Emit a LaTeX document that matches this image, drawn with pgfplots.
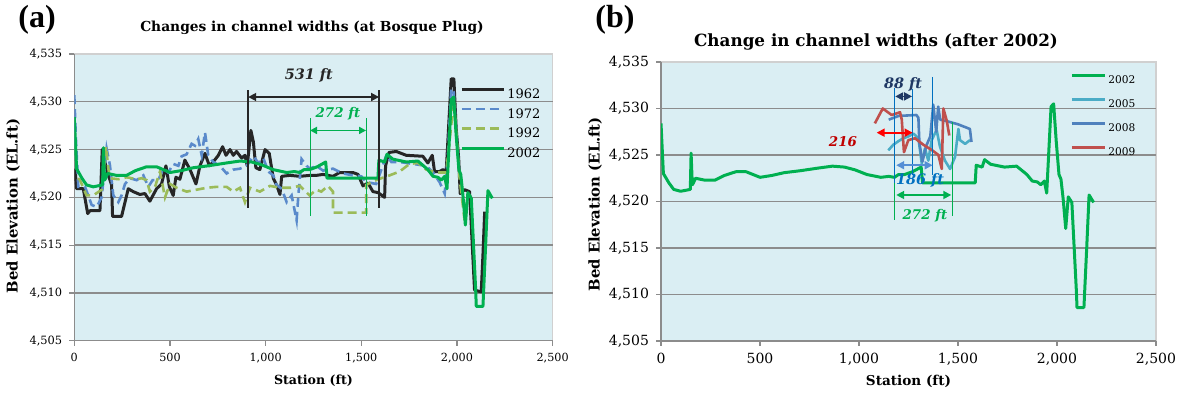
\documentclass[border=0pt]{standalone}
\usepackage{pgfplots}
\pgfplotsset{compat=1.18}
\usepackage{fontspec}
\setmainfont{DejaVu Serif}
\newfontfamily\timesfont{Liberation Serif}
\usetikzlibrary{arrows.meta}
\definecolor{bg}{HTML}{DAEEF3}
\definecolor{gridgray}{HTML}{8C8C8C}
\definecolor{axisgray}{HTML}{8C8C8C}
\definecolor{framegray}{HTML}{D0D0D0}
\definecolor{c1962}{HTML}{262626}
\definecolor{c1972}{HTML}{5A8ACB}
\definecolor{c1992}{HTML}{9BBB59}
\definecolor{c2002}{HTML}{00B050}
\definecolor{c2005}{HTML}{4BACC6}
\definecolor{c2008}{HTML}{4F81BD}
\definecolor{c2009}{HTML}{C0504D}
\definecolor{annblue}{HTML}{0070C0}
\definecolor{annlblue}{HTML}{558ED5}
\definecolor{annnavy}{HTML}{1F3864}
\definecolor{annred}{HTML}{FF0000}
\definecolor{anndred}{HTML}{C00000}

\pgfplotstableread{
s e
0 4528.4
12 4523.0
40 4522.0
64 4521.3
99 4521.1
148 4521.3
152 4525.2
158 4521.8
164 4522.0
174 4522.5
220 4522.3
273 4522.3
320 4522.8
378 4523.2
430 4523.2
500 4522.6
560 4522.8
622 4523.1
700 4523.3
796 4523.6
866 4523.8
927 4523.7
980 4523.4
1040 4522.9
1110 4522.6
1150 4522.7
1179 4522.6
1200 4522.9
1230 4522.9
1270 4523.2
1314 4523.7
1321 4522.0
1587 4522.0
1592 4523.9
1622 4523.7
1634 4524.5
1665 4524.0
1735 4523.7
1796 4523.8
1848 4522.9
1875 4522.2
1901 4522.1
1918 4521.8
1936 4522.2
1948 4520.9
1970 4530.2
1983 4530.5
1996 4526.5
2010 4522.9
2020 4522.4
2031 4520.3
2044 4517.1
2057 4520.5
2075 4519.9
2098 4510.3
2101 4508.6
2136 4508.6
2150 4515.0
2162 4520.7
2185 4519.9
}\tabA

\pgfplotstableread{
s e
4 4523.0
12 4520.9
47 4520.9
70 4518.3
82 4518.6
134 4518.6
146 4525.0
160 4523.7
178 4522.3
195 4521.3
200 4518.0
247 4518.0
282 4520.9
308 4520.6
343 4520.3
369 4520.4
395 4519.6
430 4520.9
456 4521.4
479 4523.3
497 4521.1
517 4520.2
531 4522.1
552 4521.9
578 4523.9
605 4522.9
636 4521.4
657 4523.3
683 4524.6
706 4523.3
726 4523.7
753 4524.4
775 4525.3
793 4524.4
814 4525.0
831 4524.4
848 4524.8
875 4524.1
892 4524.4
904 4523.3
923 4527.0
936 4525.8
949 4523.1
970 4522.9
997 4525.0
1019 4524.6
1040 4522.0
1057 4521.3
1075 4520.3
1084 4522.2
1127 4522.3
1179 4522.2
1232 4522.3
1265 4522.3
1300 4522.4
1352 4522.2
1387 4522.6
1456 4522.6
1483 4522.4
1509 4521.2
1535 4521.5
1561 4520.6
1587 4520.5
1622 4520.0
1627 4523.3
1645 4524.7
1683 4524.8
1735 4524.4
1822 4524.3
1848 4523.6
1871 4524.4
1883 4522.7
1909 4522.7
1927 4522.9
1944 4522.7
1970 4532.4
1984 4532.4
1996 4527.2
2009 4524.1
2017 4520.4
2040 4520.8
2066 4520.6
2092 4510.3
2127 4510.1
2136 4514.0
2145 4518.5
}\tabB

\pgfplotstableread{
s e
0 4530.7
9 4525.8
21 4521.1
56 4521.1
91 4519.2
117 4519.0
143 4520.0
169 4525.1
186 4523.4
204 4520.2
230 4519.5
247 4520.2
265 4521.4
291 4522.0
326 4521.8
361 4522.3
387 4521.1
409 4521.8
439 4521.8
465 4523.0
491 4522.6
517 4523.5
544 4523.3
561 4524.3
587 4524.5
613 4525.6
631 4525.4
648 4526.1
666 4524.4
683 4526.8
700 4524.4
726 4523.7
761 4523.3
796 4522.5
831 4522.9
866 4523.0
901 4523.3
936 4524.3
962 4523.6
988 4524.1
1014 4522.7
1040 4522.3
1057 4521.3
1084 4520.9
1110 4519.5
1136 4520.2
1162 4517.6
1171 4520.2
1188 4524.0
1214 4523.3
1232 4523.0
1265 4523.3
1300 4522.8
1352 4523.0
1404 4522.5
1456 4522.3
1500 4522.2
1526 4521.6
1578 4521.4
1605 4522.9
1631 4524.4
1657 4523.7
1700 4523.7
1770 4523.5
1840 4523.3
1875 4522.6
1909 4521.6
1936 4520.4
1953 4524.4
1970 4531.4
1983 4531.0
1996 4527.0
2010 4523.0
}\tabC

\pgfplotstableread{
s e
20 4522.0
30 4521.8
64 4520.2
99 4520.2
143 4520.8
166 4525.3
178 4523.0
186 4522.0
230 4521.9
274 4522.1
326 4521.9
352 4522.0
378 4521.8
395 4520.6
422 4521.1
448 4522.7
474 4520.0
500 4521.4
535 4521.0
587 4520.6
639 4520.8
692 4521.0
744 4521.1
796 4521.1
831 4520.6
866 4521.0
892 4519.5
918 4521.0
970 4520.6
1023 4521.2
1075 4521.0
1127 4521.0
1179 4521.2
1230 4520.2
1265 4520.8
1291 4520.6
1326 4521.2
1352 4520.6
1352 4518.4
1526 4518.4
1526 4521.3
1552 4521.6
1605 4522.0
1648 4522.3
1700 4522.7
1753 4523.5
1796 4523.6
1840 4522.9
1892 4522.6
1944 4522.6
1970 4527.5
1983 4530.3
1996 4527.0
2014 4522.0
2040 4517.6
}\tabD

\pgfplotstableread{
s e
1148 4525.5
1173 4526.1
1200 4526.5
1224 4526.8
1250 4527.0
1275 4527.3
1300 4526.8
1317 4524.1
1333 4525.7
1350 4524.4
1367 4526.6
1392 4527.7
1409 4525.9
1434 4524.4
1460 4523.5
1485 4524.8
1502 4527.8
1510 4526.6
1536 4526.2
1561 4526.6
}\tabE

\pgfplotstableread{
s e
1150 4528.8
1200 4529.2
1290 4529.3
1300 4529.0
1305 4526.3
1320 4524.3
1340 4526.0
1360 4527.0
1375 4530.4
1390 4527.5
1400 4530.2
1410 4528.8
1450 4528.6
1500 4528.3
1560 4527.8
1568 4526.4
}\tabF

\pgfplotstableread{
s e
1080 4528.4
1120 4530.0
1165 4529.3
1207 4529.6
1216 4528.8
1227 4525.3
1249 4526.6
1283 4526.8
1325 4526.1
1370 4525.5
1401 4525.0
1418 4523.5
1426 4530.0
1443 4528.7
1456 4527.1
}\tabG

\pgfplotsset{
  chan/.style={
    scale only axis,
    xmin=0, xmax=2500, ymin=4505, ymax=4535,
    xtick={0,500,1000,1500,2000,2500},
    xticklabels={0,500,{1,000},{1,500},{2,000},{2,500}},
    ytick={4505,4510,4515,4520,4525,4530,4535},
    yticklabels={{4,505},{4,510},{4,515},{4,520},{4,525},{4,530},{4,535}},
    extra y ticks={4510,4515,4520,4525,4530},
    extra y tick labels={},
    extra y tick style={grid=major, major tick length=0pt},
    grid style={draw=gridgray, line width=0.7pt},
    axis x line*=bottom, axis y line*=left,
    axis line style={draw=axisgray, line width=0.6pt},
    tick align=outside, major tick length=2.5pt,
    tick style={draw=axisgray, line width=0.6pt},
    axis background/.style={fill=bg, draw=framegray, line width=0.6pt},
    legend cell align=left,
  },
}

\begin{document}
\begin{tikzpicture}
\path[use as bounding box] (0,0) rectangle (591.5pt,198pt);

% ---------------- panel (a)
\begin{axis}[chan,
  at={(37.15pt,27.65pt)}, anchor=south west,
  width=239.15pt, height=143.35pt,
  xticklabel style={font=\fontsize{5.6}{6}\selectfont},
  yticklabel style={font=\fontsize{5.7}{6}\selectfont},
  xlabel={\bfseries Station (ft)},
  ylabel={\bfseries Bed Elevation (EL.ft)},
  xlabel style={font=\fontsize{6.3}{7}\selectfont, at={(axis description cs:0.5,-0.14)}, anchor=center},
  ylabel style={font=\fontsize{7.4}{8}\selectfont, at={(axis description cs:-0.128,0.47)}, anchor=center},
  legend style={at={(axis cs:2016,4531.5)}, anchor=north west, draw=none, fill=none,
    inner sep=0pt, row sep=4.4pt, column sep=1pt,
    font=\fontsize{6.5}{6.5}\selectfont,
    nodes={inner sep=0pt, text height=4.7pt, text depth=0pt}},
  legend image code/.code={\draw[#1] (0pt,2.35pt) -- (21pt,2.35pt);},
]
\addplot[c1962, line width=1.5pt, line join=round] table[x=s,y=e] {\tabB};
\addlegendentry{1962}
\addplot[c1972, line width=1.3pt, dash pattern=on 4.5pt off 2.5pt] table[x=s,y=e] {\tabC};
\addlegendentry{1972}
\addplot[c1992, line width=1.3pt, dash pattern=on 4.5pt off 2.5pt] table[x=s,y=e] {\tabD};
\addlegendentry{1992}
\addplot[c2002, line width=1.5pt, line join=round] table[x=s,y=e] {\tabA};
\addlegendentry{2002}
% annotations
\draw[c1962, line width=0.8pt] (909,4531.2) -- (909,4518.9);
\draw[c1962, line width=0.8pt] (1593,4531.2) -- (1593,4518.9);
\draw[c1962, line width=0.9pt, {Triangle[length=4pt,width=4pt]}-{Triangle[length=4pt,width=4pt]}] (909,4530.5) -- (1593,4530.5);
\node[c1962, font=\fontsize{7.2}{7}\selectfont\bfseries\itshape] at (1226,4532.8) {531 ft};
\draw[c2002, line width=0.5pt] (1232,4528.3) -- (1232,4518.0);
\draw[c2002, line width=0.5pt] (1525,4528.3) -- (1525,4518.0);
\draw[c2002, line width=0.9pt, {Triangle[length=3.5pt,width=3.5pt]}-{Triangle[length=3.5pt,width=3.5pt]}] (1232,4527.0) -- (1525,4527.0);
\node[c2002, font=\fontsize{6.7}{6.5}\selectfont\bfseries\itshape] at (1378,4528.8) {272 ft};
\end{axis}

% ---------------- panel (b)
\begin{axis}[chan,
  at={(330.5pt,27.5pt)}, anchor=south west,
  width=247.5pt, height=139.5pt,
  xticklabel style={font=\fontsize{7}{7}\selectfont},
  yticklabel style={font=\fontsize{7}{7}\selectfont},
  xlabel={\bfseries Station (ft)},
  ylabel={\bfseries Bed Elevation (EL.ft)},
  xlabel style={font=\fontsize{6.8}{7}\selectfont, at={(axis description cs:0.5,-0.143)}, anchor=center},
  ylabel style={font=\fontsize{7.4}{8}\selectfont, at={(axis description cs:-0.133,0.49)}, anchor=center},
  legend style={at={(axis cs:2066,4533.7)}, anchor=north west, draw=none, fill=none,
    inner sep=0pt, row sep=7.35pt, column sep=1pt,
    font=\fontsize{5.3}{5.3}\selectfont,
    nodes={inner sep=0pt, text height=3.9pt, text depth=0pt}},
  legend image code/.code={\draw[#1] (0pt,1.95pt) -- (16.5pt,1.95pt);},
]
\addplot[c2002, line width=1.5pt, line join=round] table[x=s,y=e] {\tabA};
\addlegendentry{2002}
\addplot[c2005, line width=1.3pt, line join=round] table[x=s,y=e] {\tabE};
\addlegendentry{2005}
\addplot[c2008, line width=1.3pt, line join=round] table[x=s,y=e] {\tabF};
\addlegendentry{2008}
\addplot[c2009, line width=1.3pt, line join=round] table[x=s,y=e] {\tabG};
\addlegendentry{2009}
% annotations
\draw[annblue, line width=0.5pt] (1178,4532.2) -- (1178,4522.0);
\draw[c2002, line width=0.5pt] (1178,4522.0) -- (1178,4518.0);
\draw[annblue, line width=0.5pt] (1271,4532.1) -- (1271,4522.8);
\draw[annblue, line width=0.5pt] (1372,4533.4) -- (1372,4522.8);
\draw[c2002, line width=0.5pt] (1473,4528.6) -- (1473,4518.4);
\draw[annnavy, line width=0.9pt, {Triangle[length=4pt,width=4pt]}-{Triangle[length=4pt,width=4pt]}] (1183,4531.3) -- (1268,4531.3);
\node[annnavy, font=\fontsize{7.2}{7}\selectfont\bfseries\itshape] at (1222,4532.6) {88 ft};
\draw[annred, line width=0.9pt, {Triangle[length=4pt,width=4pt]}-{Triangle[length=4pt,width=4pt]}] (1089,4527.4) -- (1271,4527.4);
\node[anndred, font=\fontsize{6.7}{6.5}\selectfont\bfseries\itshape] at (919,4526.4) {216};
\draw[annlblue, line width=0.9pt, {Triangle[length=4pt,width=4pt]}-{Triangle[length=4pt,width=4pt]}] (1188,4523.9) -- (1372,4523.9);
\node[annblue, font=\fontsize{7.2}{7}\selectfont\bfseries\itshape] at (1308,4522.3) {186 ft};
\draw[c2002, line width=0.9pt, {Triangle[length=4pt,width=4pt]}-{Triangle[length=4pt,width=4pt]}] (1188,4520.7) -- (1466,4520.7);
\node[c2002, font=\fontsize{6.7}{6.5}\selectfont\bfseries\itshape] at (1333,4518.5) {272 ft};
\end{axis}

% titles and panel letters
\node[font=\fontsize{6.9}{7}\selectfont\bfseries] at (156pt,184pt) {Changes in channel widths (at Bosque Plug)};
\node[font=\fontsize{8.4}{9}\selectfont\bfseries] at (438pt,177pt) {Change in channel widths (after 2002)};
\node[font=\fontsize{16}{16}\selectfont\timesfont\bfseries] at (18.5pt,188pt) {(a)};
\node[font=\fontsize{16}{16}\selectfont\timesfont\bfseries] at (307.5pt,188pt) {(b)};
\end{tikzpicture}
\end{document}
